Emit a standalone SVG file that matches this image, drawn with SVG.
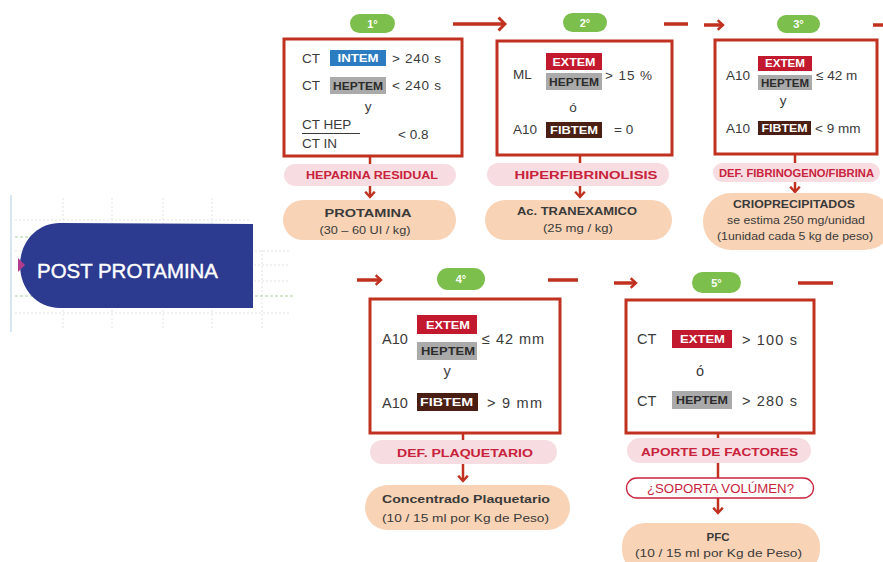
<svg xmlns="http://www.w3.org/2000/svg" width="883" height="562" viewBox="0 0 883 562">
<defs>
<style>
text{font-family:"Liberation Sans",Arial,sans-serif;}
.box{fill:#fff;stroke:#c0311f;stroke-width:3;}
.step{fill:#7dbf4c;}
.stept{fill:#fff;font-size:11px;font-weight:bold;text-anchor:middle;}
.t{fill:#3a3a3a;font-size:13.5px;}
.tb{fill:#3a3a3a;font-size:14.5px;}
.bdg{font-size:10px;font-weight:bold;text-anchor:middle;fill:#fff;}
.bdgL{font-size:10.5px;font-weight:bold;text-anchor:middle;fill:#fff;}
.dk{fill:#2c2c2c;}
.intem{fill:#2b7cc0;}
.extem{fill:#c3192f;}
.heptem{fill:#aaaaaa;}
.fibtem{fill:#4a1e12;}
.pink{fill:#f7dde1;}
.pinkt{fill:#c8223c;font-size:11.5px;font-weight:bold;text-anchor:middle;}
.peach{fill:#f9d3b6;}
.peacht{fill:#3a3a3a;font-size:11.5px;font-weight:bold;text-anchor:middle;}
.peachs{fill:#3a3a3a;font-size:10.5px;text-anchor:middle;}
.con{stroke:#c0311f;stroke-width:3.5;fill:none;}
.conS{stroke:#c0311f;stroke-width:2.5;fill:none;}
.grid{stroke:#e3e3e3;stroke-width:1;stroke-dasharray:2 2;fill:none;}
.gridg{stroke:#a9d19a;stroke-width:1;stroke-dasharray:3 2;fill:none;}
</style>
<marker id="chev" viewBox="0 0 10 16" refX="8" refY="8" markerWidth="10" markerHeight="16" markerUnits="userSpaceOnUse" orient="auto">
<path d="M1.5,1.5 L8,8 L1.5,14.5" fill="none" stroke="#c0311f" stroke-width="3"/>
</marker>
<marker id="chevs" viewBox="0 0 8 12" refX="6.5" refY="6" markerWidth="8" markerHeight="12" markerUnits="userSpaceOnUse" orient="auto">
<path d="M1.2,1.2 L6.5,6 L1.2,10.8" fill="none" stroke="#c0311f" stroke-width="2.4"/>
</marker>
</defs>
<rect width="883" height="562" fill="#fff"/>

<g id="background-grid">
<line x1="11" y1="195" x2="11" y2="332" stroke="#d8e5f4" stroke-width="2"/>
<line class="grid" x1="63" y1="198" x2="63" y2="330"/>
<line class="grid" x1="112" y1="198" x2="112" y2="330"/>
<line class="grid" x1="163" y1="198" x2="163" y2="330"/>
<line class="grid" x1="212" y1="198" x2="212" y2="330"/>
<line class="grid" x1="262" y1="250" x2="262" y2="330"/>
<line class="grid" x1="15" y1="220" x2="250" y2="220"/>
<line class="gridg" x1="15" y1="237" x2="60" y2="237"/>
<line class="grid" x1="15" y1="251" x2="290" y2="251"/>
<line class="grid" x1="250" y1="265" x2="290" y2="265"/>
<line class="grid" x1="250" y1="281" x2="290" y2="281"/>
<line class="gridg" x1="15" y1="296" x2="60" y2="296"/>
<line class="gridg" x1="250" y1="296" x2="295" y2="296"/>
<line class="grid" x1="15" y1="313" x2="290" y2="313"/>
</g>

<g id="post-protamina">
<path d="M253,224 L60,223 C36,223 20,243 20,265 C20,288 36,308 60,308 L253,308 Z" fill="#2c3a90"/>
<path d="M18,258 L25,265 L18,272 Z" fill="#b23c8c"/>
<text x="37" y="278" font-size="20" fill="#fff" stroke="#fff" stroke-width="0.4" textLength="181" lengthAdjust="spacingAndGlyphs">POST PROTAMINA</text>
</g>

<g id="connectors">
<line class="con" x1="453" y1="24" x2="505" y2="24" marker-end="url(#chev)"/>
<line class="con" x1="664" y1="24" x2="688" y2="24"/>
<line class="con" x1="704" y1="25" x2="723" y2="25" marker-end="url(#chevs)"/>
<line class="con" x1="873" y1="25" x2="883" y2="25"/>
<line class="con" x1="357" y1="280" x2="381" y2="280" marker-end="url(#chevs)"/>
<line class="con" x1="548" y1="280" x2="578" y2="280"/>
<line class="con" x1="614" y1="283" x2="636" y2="283" marker-end="url(#chevs)"/>
<line class="con" x1="798" y1="283" x2="833" y2="283"/>
<line class="conS" x1="370" y1="156" x2="370" y2="164"/>
<line class="conS" x1="370" y1="186" x2="370" y2="197" marker-end="url(#chevs)"/>
<line class="conS" x1="580" y1="155" x2="580" y2="163"/>
<line class="conS" x1="580" y1="186" x2="580" y2="197" marker-end="url(#chevs)"/>
<line class="conS" x1="795" y1="154" x2="795" y2="163"/>
<line class="conS" x1="795" y1="182" x2="795" y2="192" marker-end="url(#chevs)"/>
<line class="conS" x1="463" y1="433" x2="463" y2="440"/>
<line class="conS" x1="463" y1="464" x2="463" y2="481" marker-end="url(#chevs)"/>
<line class="conS" x1="718" y1="426" x2="718" y2="438"/>
<line class="conS" x1="718" y1="463" x2="718" y2="478"/>
<line class="conS" x1="718" y1="498" x2="718" y2="513" marker-end="url(#chevs)"/>
</g>

<g id="step1">
<rect class="step" x="350" y="14" width="45" height="19" rx="9.5"/>
<text class="stept" x="372.5" y="28">1°</text>
<rect class="box" x="284" y="39" width="178" height="117"/>
<text class="t" x="302" y="63">CT</text>
<rect class="intem" x="330" y="50" width="56" height="16"/>
<text class="bdg" x="358" y="61.5" textLength="41" lengthAdjust="spacingAndGlyphs">INTEM</text>
<text class="t" x="392" y="63" textLength="49" lengthAdjust="spacing">&gt; 240 s</text>
<text class="t" x="302" y="90">CT</text>
<rect class="heptem" x="330" y="77" width="56" height="17"/>
<text class="bdg dk" x="358" y="89.5" textLength="50" lengthAdjust="spacingAndGlyphs">HEPTEM</text>
<text class="t" x="392" y="90" textLength="49" lengthAdjust="spacing">&lt; 240 s</text>
<text class="t" x="368" y="111" text-anchor="middle">y</text>
<text class="t" x="302" y="129">CT HEP</text>
<line x1="302" y1="133.5" x2="360" y2="133.5" stroke="#3a3a3a" stroke-width="1"/>
<text class="t" x="302" y="148">CT IN</text>
<text class="t" x="398" y="139">&lt; 0.8</text>
</g>
<g id="heparina-residual">
<rect class="pink" x="284" y="164" width="172" height="22" rx="11"/>
<text class="pinkt" x="372" y="178.5" textLength="132" lengthAdjust="spacingAndGlyphs">HEPARINA  RESIDUAL</text>
</g>
<g id="protamina">
<rect class="peach" x="283" y="200" width="173" height="40" rx="20"/>
<text class="peacht" x="368" y="216.5" textLength="87" lengthAdjust="spacingAndGlyphs">PROTAMINA</text>
<text class="peachs" x="365" y="234" textLength="91" lengthAdjust="spacingAndGlyphs">(30 – 60 UI / kg)</text>
</g>

<g id="step2">
<rect class="step" x="563" y="13" width="44" height="19" rx="9.5"/>
<text class="stept" x="585" y="27">2°</text>
<rect class="box" x="497" y="41" width="175" height="114"/>
<text class="t" x="513" y="79">ML</text>
<rect class="extem" x="546" y="53" width="56" height="17"/>
<text class="bdg" x="574" y="65.5" textLength="43" lengthAdjust="spacingAndGlyphs">EXTEM</text>
<rect class="heptem" x="546" y="73" width="56" height="17"/>
<text class="bdg dk" x="574" y="85.5" textLength="50" lengthAdjust="spacingAndGlyphs">HEPTEM</text>
<text class="t" x="605" y="80" textLength="47" lengthAdjust="spacing">&gt; 15 %</text>
<text class="t" x="573" y="112" text-anchor="middle">ó</text>
<text class="t" x="513" y="134">A10</text>
<rect class="fibtem" x="546" y="122" width="56" height="16"/>
<text class="bdg" x="574" y="133.5" textLength="48" lengthAdjust="spacingAndGlyphs">FIBTEM</text>
<text class="t" x="614" y="134">=  0</text>
</g>
<g id="hiperfibrinolisis">
<rect class="pink" x="487" y="163" width="182" height="23" rx="11.5"/>
<text class="pinkt" x="586" y="179" font-size="12" textLength="143" lengthAdjust="spacingAndGlyphs">HIPERFIBRINOLISIS</text>
</g>
<g id="tranexamico">
<rect class="peach" x="485" y="200" width="187" height="40" rx="20"/>
<text class="peacht" x="577" y="214.5" textLength="120" lengthAdjust="spacingAndGlyphs">Ac. TRANEXAMICO</text>
<text class="peachs" x="578" y="232" textLength="70" lengthAdjust="spacingAndGlyphs">(25 mg / kg)</text>
</g>

<g id="step3">
<rect class="step" x="777" y="15" width="43" height="18" rx="9"/>
<text class="stept" x="798.5" y="28">3°</text>
<rect class="box" x="715" y="40" width="162" height="114"/>
<text class="t" x="726" y="80">A10</text>
<rect class="extem" x="758" y="56" width="54" height="15"/>
<text class="bdg" x="785" y="67" textLength="40" lengthAdjust="spacingAndGlyphs">EXTEM</text>
<rect class="heptem" x="758" y="75" width="54" height="15"/>
<text class="bdg dk" x="785" y="86.5" textLength="48" lengthAdjust="spacingAndGlyphs">HEPTEM</text>
<text class="t" x="816" y="80">≤ 42 m</text>
<text class="t" x="783" y="105" text-anchor="middle">y</text>
<text class="t" x="726" y="133">A10</text>
<rect class="fibtem" x="758" y="121" width="53" height="14"/>
<text class="bdg" x="784.5" y="132" textLength="46" lengthAdjust="spacingAndGlyphs">FIBTEM</text>
<text class="t" x="815" y="133">&lt; 9 mm</text>
</g>
<g id="def-fibrinogeno">
<rect class="pink" x="713" y="163" width="167" height="19" rx="9.5"/>
<text class="pinkt" x="796.5" y="176.5" font-size="10" textLength="155" lengthAdjust="spacingAndGlyphs">DEF. FIBRINOGENO/FIBRINA</text>
</g>
<g id="crioprecipitados">
<rect class="peach" x="703" y="193" width="190" height="57" rx="28"/>
<text class="peacht" x="794" y="207.5" font-size="11" textLength="122" lengthAdjust="spacingAndGlyphs">CRIOPRECIPITADOS</text>
<text class="peachs" x="796" y="224" textLength="138" lengthAdjust="spacingAndGlyphs">se estima 250 mg/unidad</text>
<text class="peachs" x="795" y="239.5" textLength="156" lengthAdjust="spacingAndGlyphs">(1unidad cada 5 kg de peso)</text>
</g>

<g id="step4">
<rect class="step" x="437" y="268" width="48" height="22" rx="11"/>
<text class="stept" x="461" y="283">4°</text>
<rect class="box" x="370" y="299" width="190" height="134"/>
<text class="tb" x="382" y="344">A10</text>
<rect class="extem" x="417" y="315" width="60" height="19"/>
<text class="bdgL" x="448" y="328.5" textLength="44" lengthAdjust="spacingAndGlyphs">EXTEM</text>
<rect class="heptem" x="417" y="342" width="60" height="18"/>
<text class="bdgL dk" x="448" y="355" textLength="54" lengthAdjust="spacingAndGlyphs">HEPTEM</text>
<text class="tb" x="482" y="344" textLength="62" lengthAdjust="spacing">≤ 42 mm</text>
<text class="tb" x="447" y="376" text-anchor="middle">y</text>
<text class="tb" x="382" y="408">A10</text>
<rect class="fibtem" x="417" y="393" width="61" height="18"/>
<text class="bdgL" x="446.5" y="406" textLength="53" lengthAdjust="spacingAndGlyphs">FIBTEM</text>
<text class="tb" x="487" y="408" textLength="55" lengthAdjust="spacing">&gt; 9 mm</text>
</g>
<g id="def-plaquetario">
<rect class="pink" x="370" y="440" width="187" height="24" rx="12"/>
<text class="pinkt" x="465" y="456.5" font-size="12" textLength="136" lengthAdjust="spacingAndGlyphs">DEF.  PLAQUETARIO</text>
</g>
<g id="concentrado-plaquetario">
<rect class="peach" x="365" y="485" width="205" height="45" rx="22.5"/>
<text class="peacht" x="466" y="502.5" font-size="12" textLength="168" lengthAdjust="spacingAndGlyphs">Concentrado  Plaquetario</text>
<text class="peachs" x="465.5" y="522" font-size="11.5" textLength="167" lengthAdjust="spacingAndGlyphs">(10 / 15 ml por Kg de Peso)</text>
</g>

<g id="step5">
<rect class="step" x="692" y="272" width="49" height="21" rx="10.5"/>
<text class="stept" x="716.5" y="286.5">5°</text>
<rect class="box" x="626" y="300" width="188" height="133"/>
<text class="tb" x="637" y="344">CT</text>
<rect class="extem" x="672" y="330" width="60" height="18"/>
<text class="bdgL" x="702.5" y="343" textLength="45" lengthAdjust="spacingAndGlyphs">EXTEM</text>
<text class="tb" x="742" y="345" textLength="55" lengthAdjust="spacing">&gt; 100 s</text>
<text class="tb" x="700" y="376" text-anchor="middle">ó</text>
<text class="tb" x="637" y="406">CT</text>
<rect class="heptem" x="672" y="391" width="60" height="18"/>
<text class="bdgL dk" x="702" y="404" textLength="52" lengthAdjust="spacingAndGlyphs">HEPTEM</text>
<text class="tb" x="742" y="406" textLength="55" lengthAdjust="spacing">&gt; 280 s</text>
</g>
<g id="aporte-factores">
<rect class="pink" x="627" y="438" width="184" height="25" rx="12.5"/>
<text class="pinkt" x="719.5" y="455.5" font-size="12" textLength="157" lengthAdjust="spacingAndGlyphs">APORTE  DE FACTORES</text>
</g>
<g id="soporta-volumen">
<rect x="626.5" y="478" width="187" height="20" rx="10" fill="#fff" stroke="#c8223c" stroke-width="1.3"/>
<text x="720.5" y="493" font-size="12" fill="#c8223c" text-anchor="middle" textLength="147" lengthAdjust="spacingAndGlyphs">¿SOPORTA VOLÚMEN?</text>
</g>
<g id="pfc">
<rect class="peach" x="622" y="523" width="198" height="50" rx="23"/>
<text class="peacht" x="718" y="541" font-size="12">PFC</text>
<text class="peachs" x="718.5" y="557" font-size="11.5" textLength="167" lengthAdjust="spacingAndGlyphs">(10 / 15 ml por Kg de Peso)</text>
</g>
</svg>
